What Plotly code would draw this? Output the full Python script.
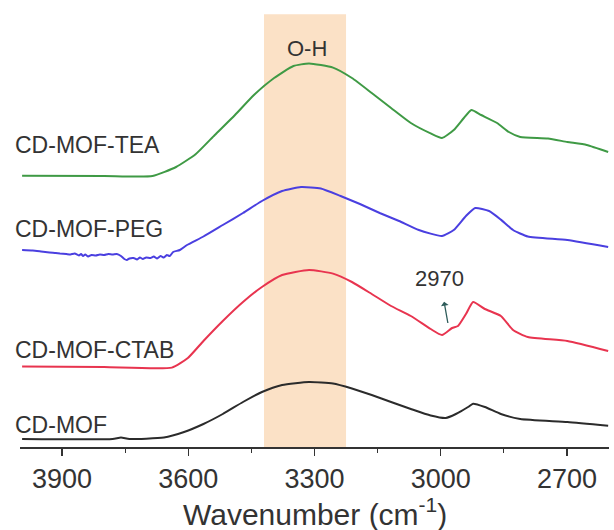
import plotly.graph_objects as go

# ---------------- data (wavenumber in cm-1, absorbance in a.u., offset) -------------
wn_tea = [3995, 3800, 3685, 3629, 3582, 3537, 3489, 3444, 3396, 3350, 3313, 3256, 3211,
          3164, 3118, 3071, 3024, 2997, 2969, 2945, 2927, 2904, 2866, 2838, 2811, 2745,
          2699, 2653, 2602]
ab_tea = [2.713, 2.71, 2.71, 2.80, 2.93, 3.12, 3.32, 3.52, 3.69, 3.81, 3.835, 3.794, 3.69,
          3.54, 3.39, 3.24, 3.136, 3.09, 3.17, 3.29, 3.37, 3.32, 3.24, 3.15, 3.10, 3.085,
          3.05, 3.02, 2.95]

wn_peg = [3995, 3970, 3950, 3930, 3915, 3905, 3890, 3880, 3870, 3860, 3855, 3850, 3845,
          3838, 3830, 3820, 3810, 3800, 3790, 3780, 3770, 3760, 3752, 3746, 3740, 3730,
          3722, 3715, 3708, 3700, 3690, 3682, 3674, 3666, 3658, 3651, 3644, 3636, 3620,
          3603, 3564, 3518, 3470, 3425, 3377, 3332, 3285, 3238, 3192, 3145, 3099, 3052,
          2997, 2969, 2940, 2918, 2885, 2857, 2828, 2793, 2699, 2602]
ab_peg = [1.97, 1.965, 1.955, 1.945, 1.94, 1.935, 1.93, 1.925, 1.935, 1.915, 1.93, 1.91,
          1.925, 1.905, 1.92, 1.915, 1.925, 1.92, 1.93, 1.925, 1.93, 1.91, 1.88, 1.87,
          1.885, 1.89, 1.875, 1.895, 1.88, 1.895, 1.89, 1.905, 1.885, 1.91, 1.895, 1.92,
          1.91, 1.95, 1.97, 2.02, 2.105, 2.22, 2.34, 2.46, 2.56, 2.60, 2.585, 2.51, 2.43,
          2.34, 2.26, 2.17, 2.11, 2.17, 2.31, 2.39, 2.36, 2.274, 2.17, 2.105, 2.07, 2.00]

wn_ctab = [3995, 3800, 3639, 3601, 3564, 3518, 3470, 3425, 3377, 3313, 3256, 3211, 3164,
           3118, 3071, 3024, 2997, 2973, 2959, 2940, 2923, 2895, 2857, 2828, 2793, 2699,
           2602]
ab_ctab = [0.805, 0.80, 0.794, 0.89, 1.06, 1.26, 1.45, 1.60, 1.72, 1.77, 1.734, 1.65, 1.53,
           1.41, 1.31, 1.18, 1.12, 1.19, 1.21, 1.33, 1.45, 1.38, 1.31, 1.17, 1.10, 1.06,
           0.96]

wn_mof = [3995, 3780, 3760, 3740, 3658, 3610, 3564, 3518, 3470, 3425, 3377, 3313, 3256,
          3211, 3164, 3118, 3071, 3024, 2988, 2964, 2935, 2923, 2895, 2857, 2811, 2699,
          2602]
ab_mof = [0.08, 0.08, 0.095, 0.08, 0.095, 0.15, 0.23, 0.33, 0.45, 0.55, 0.62, 0.65, 0.635,
          0.585, 0.52, 0.45, 0.38, 0.315, 0.29, 0.33, 0.40, 0.433, 0.40, 0.33, 0.28, 0.25,
          0.213]

series_names = ["CD-MOF-TEA", "CD-MOF-PEG", "CD-MOF-CTAB", "CD-MOF"]
label_y = [3.02, 2.18, 0.97, 0.22]
tick_vals = [3900, 3600, 3300, 3000, 2700]
oh_band = [3420, 3225]
peak_label = "2970"

# ---------------- figure -------------
colors = ["#3f9a45", "#4a3fe0", "#e8344f", "#2b2b2b"]
data = [(wn_tea, ab_tea), (wn_peg, ab_peg), (wn_ctab, ab_ctab), (wn_mof, ab_mof)]

fig = go.Figure()
for (wn, ab), name, c in zip(data, series_names, colors):
    fig.add_trace(go.Scatter(x=wn, y=ab, mode="lines", name=name,
                             line=dict(color=c, width=2, shape="spline", smoothing=0.5),
                             showlegend=False, hoverinfo="skip"))

fig.add_shape(type="rect", xref="x", yref="paper", x0=oh_band[0], x1=oh_band[1],
              y0=0, y1=0.99, fillcolor="#fbe1c6", line=dict(width=0), layer="below")

annots = []
for name, y in zip(series_names, label_y):
    annots.append(dict(text=name, xref="paper", yref="y", x=-0.012, y=y,
                       xanchor="left", yanchor="middle", showarrow=False,
                       font=dict(size=23, color="#333333")))
annots.append(dict(text="O-H", xref="x", yref="paper", x=sum(oh_band) / 2 - 5, y=0.945,
                   showarrow=False, font=dict(size=22, color="#333333")))
annots.append(dict(text=peak_label, xref="x", yref="y", x=2983, y=1.24,
                   axref="x", ayref="y", ax=3002, ay=1.69,
                   showarrow=True, arrowside="start", arrowhead=2, arrowsize=1,
                   arrowwidth=1.3, arrowcolor="#2e5c5a", startstandoff=10,
                   font=dict(size=22, color="#333333")))
annots.append(dict(text="Wavenumber (cm<sup>-1</sup>)", xref="paper", yref="paper",
                   x=0.5, y=-0.148, xanchor="center", yanchor="middle", showarrow=False,
                   borderpad=0, font=dict(size=30, color="#333333")))

fig.update_layout(
    width=614, height=530,
    margin=dict(l=20, r=5, t=10, b=83),
    paper_bgcolor="white", plot_bgcolor="white",
    font=dict(family="Liberation Sans, Arial, sans-serif", color="#333333"),
    annotations=annots,
    xaxis=dict(range=[4000, 2600], tickvals=tick_vals, ticks="outside", ticklen=7,
               tickwidth=1.5, tickcolor="#333333", showline=True, linecolor="#333333",
               linewidth=1.5, showgrid=False, zeroline=False, automargin=False,
               tickfont=dict(size=27, color="#333333"),
               minor=dict(dtick=150, ticks="outside", ticklen=4, tickcolor="#333333",
                          tickwidth=1.2, showgrid=False)),
    yaxis=dict(range=[0, 4.37], visible=False, automargin=False),
)

fig.write_html("out.html", config={"displayModeBar": False, "staticPlot": True},
               post_script="document.body.style.margin='0px';document.body.style.overflow='hidden';")
